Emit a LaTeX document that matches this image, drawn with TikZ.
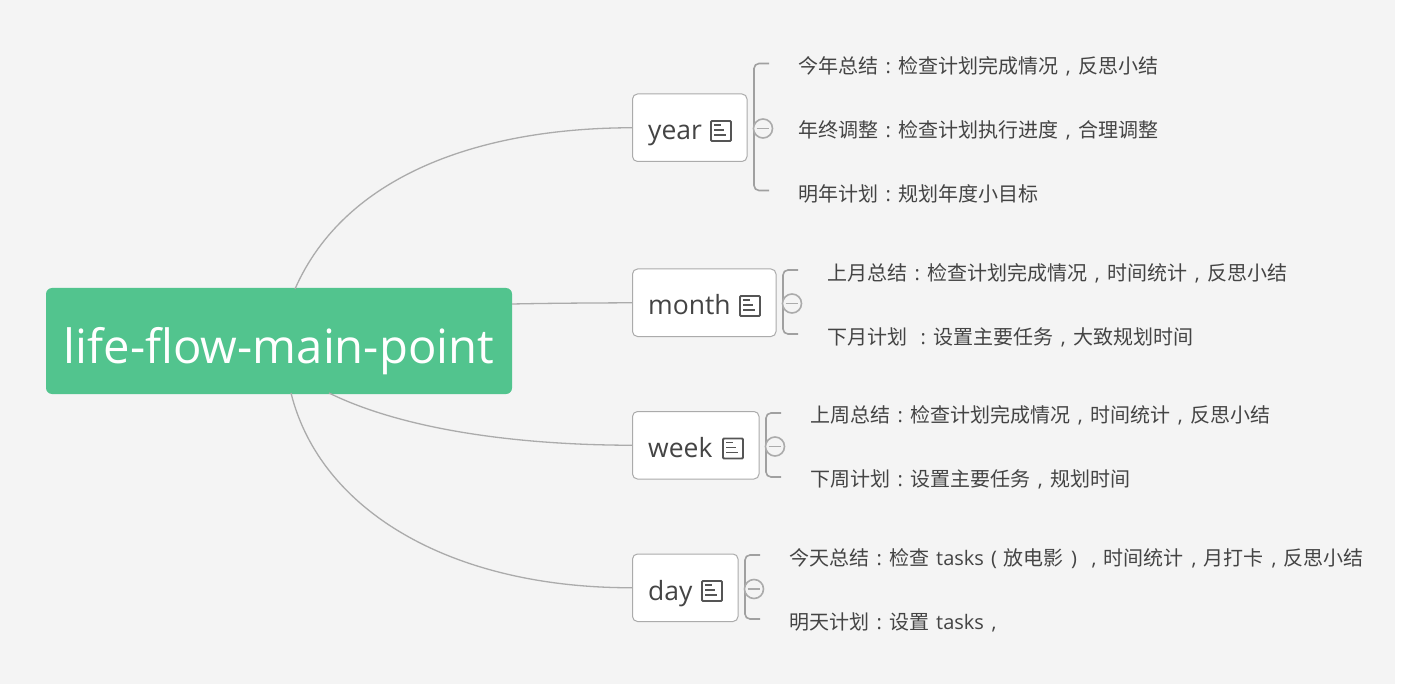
\documentclass[tikz,border=0pt]{standalone}
\usepackage{fontspec}
\setmainfont{Open Sans}
\newfontfamily\cjk{Noto Sans CJK SC}
\newcommand{\mk}[1]{\makebox[20pt][c]{\rmfamily #1}}
\newcommand{\pc}{\mk{:}}
\newcommand{\pd}{\mk{,}}
\newcommand{\lp}{\mk{(}}
\newcommand{\rp}{\mk{)}}
\newcommand{\en}[1]{\hspace{7pt}{\rmfamily #1}}
\definecolor{bgc}{HTML}{F4F4F4}
\definecolor{rootc}{HTML}{52C48E}
\definecolor{linec}{HTML}{ABABAB}
\definecolor{bracec}{HTML}{A0A0A0}
\definecolor{txtc}{HTML}{444444}
\definecolor{iconc}{HTML}{555555}
\tikzset{
  x=1pt,y=-1pt,
  rootbox/.style={fill=rootc,rounded corners=6pt,text=white,minimum width=466pt,minimum height=106pt,inner sep=0pt,font=\fontsize{47.2}{47}\selectfont,text height=44pt,text depth=0pt},
  topicbox/.style={draw=linec,line width=1pt,fill=white,rounded corners=5pt,minimum height=67.5pt,anchor=north west,inner sep=0pt},
  topiclabel/.style={anchor=base west,inner sep=0pt,text=txtc,font=\fontsize{26.5}{28}\selectfont},
  leaf/.style={anchor=base west,inner sep=0pt,text=txtc,font=\cjk\fontsize{20}{20}\selectfont},
  link/.style={draw=linec,line width=1.3pt},
  brace/.style={draw=bracec,line width=1.6pt,rounded corners=5pt},
  fold/.style={circle,draw=linec,line width=1.6pt,fill=bgc,minimum size=19pt,inner sep=0pt},
  foldbar/.style={draw=linec,line width=1.4pt},
  icon/.style={draw=iconc,line width=1.9pt,rounded corners=1pt,minimum width=20pt,minimum height=20pt,inner sep=0pt},
  iconbar/.style={draw=iconc,line width=1.6pt},
}
\newcommand{\iconbars}[1]{%
  \draw[iconbar] ([xshift=4pt,yshift=-5pt]#1.north west) -- ++(7,0);
  \draw[iconbar] ([xshift=4pt,yshift=-10pt]#1.north west) -- ++(10,0);
  \draw[iconbar] ([xshift=4pt,yshift=-15pt]#1.north west) -- ++(12,0);
}
\newcommand{\foldmark}[3]{% name, x, y
  \node[fold] (#1) at (#2,#3) {};
  \draw[foldbar] ([xshift=4pt]#1.west) -- ([xshift=-4pt]#1.east);
}
\begin{document}
\begin{tikzpicture}
\useasboundingbox (0,0) rectangle (1404,684);
\fill[bgc] (0,0) rectangle (1395,684);

\coordinate (ry) at (295,289);
\coordinate (rm) at (512,304);
\coordinate (rw) at (329,393);
\coordinate (rd) at (291,393);

% year
\node[topicbox,minimum width=114.5pt] (year) at (632,93.5) {};
\node[topiclabel] (yeart) at (648,140) {year};
\node[icon] (yeari) at (721,131) {};
\iconbars{yeari}
% month
\node[topicbox,minimum width=143.5pt] (month) at (632,268.5) {};
\node[topiclabel] (montht) at (648,315) {month};
\node[icon] (monthi) at (750,306) {};
\iconbars{monthi}
% week
\node[topicbox,minimum width=126.5pt] (week) at (632,411) {};
\node[topiclabel] (weekt) at (648,457.5) {week};
\node[icon] (weeki) at (733,448.5) {};
\iconbars{weeki}
% day
\node[topicbox,minimum width=105.5pt] (day) at (632,553.5) {};
\node[topiclabel] (dayt) at (648,600) {day};
\node[icon] (dayi) at (712,591) {};
\iconbars{dayi}

\node[rootbox] (root) at (279,341) {life-flow-main-point};

% links from root to topics
\draw[link] (ry) .. controls (345,175) and (480,128) .. (year.west);
\draw[link] (rm) .. controls (560,303) and (600,303) .. (month.west);
\draw[link] (rw) .. controls (400,428) and (510,445) .. (week.west);
\draw[link] (rd) .. controls (320,510) and (450,588) .. (day.west);

% leaves
\node[leaf] (y1) at (798,74) {今年总结\pc 检查计划完成情况\pd 反思小结};
\node[leaf] (y2) at (798,138) {年终调整\pc 检查计划执行进度\pd 合理调整};
\node[leaf] (y3) at (798,202) {明年计划\pc 规划年度小目标};
\node[leaf] (m1) at (827,281) {上月总结\pc 检查计划完成情况\pd 时间统计\pd 反思小结};
\node[leaf] (m2) at (827,344.5) {下月计划\hspace{6pt}\pc 设置主要任务\pd 大致规划时间};
\node[leaf] (w1) at (810,422.5) {上周总结\pc 检查计划完成情况\pd 时间统计\pd 反思小结};
\node[leaf] (w2) at (810,486.5) {下周计划\pc 设置主要任务\pd 规划时间};
\node[leaf] (d1) at (789,565.5) {今天总结\pc 检查\en{tasks}\lp 放电影\rp\pd 时间统计\pd 月打卡\pd 反思小结};
\node[leaf] (d2) at (789,629.5) {明天计划\pc 设置\en{tasks}\pd};

% brackets
\draw[brace] (769,63.5) -| (754,190.5) -- (769,190.5);
\draw[brace] (798,270) -| (783,334) -- (798,334);
\draw[brace] (781,413) -| (766,477) -- (781,477);
\draw[brace] (760,555) -| (745,619) -- (760,619);

\foldmark{yf}{763}{128.5}
\foldmark{mf}{792}{303.5}
\foldmark{wf}{775}{446.5}
\foldmark{df}{754}{589}
\end{tikzpicture}
\end{document}
